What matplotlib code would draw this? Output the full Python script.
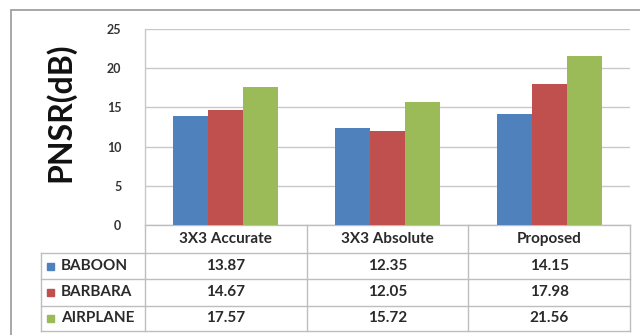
import matplotlib
matplotlib.use("Agg")
import matplotlib.pyplot as plt
from matplotlib.patches import Rectangle
import numpy as np

categories = ["3X3 Accurate", "3X3 Absolute", "Proposed"]
series_names = ["BABOON", "BARBARA", "AIRPLANE"]
baboon = [13.87, 12.35, 14.15]
barbara = [14.67, 12.05, 17.98]
airplane = [17.57, 15.72, 21.56]
yticks = [0, 5, 10, 15, 20, 25]
colors = ["#4F81BD", "#C0504D", "#9BBB59"]

series = [baboon, barbara, airplane]

plt.rcParams['font.family'] = ['Lato', 'DejaVu Sans']

W, H = 640, 335
fig = plt.figure(figsize=(W / 100, H / 100), dpi=100)
fig.patch.set_facecolor("white")

# axes placement (pixels)
ax_l, ax_r, ax_t, ax_b = 145, 630, 29, 225
ax = fig.add_axes([ax_l / W, 1 - ax_b / H, (ax_r - ax_l) / W, (ax_b - ax_t) / H])

x = np.arange(len(categories))
bw = 0.216
for i, (vals, c) in enumerate(zip(series, colors)):
    ax.bar(x + (i - 1) * bw, vals, width=bw, color=c, edgecolor="none", zorder=3)

ax.set_xlim(-0.5, len(categories) - 0.5)
ax.set_ylim(0, 25)
ax.set_yticks(yticks)
ax.set_yticklabels([str(t) for t in yticks], fontsize=9, fontweight="bold", color="#333333")
ax.tick_params(axis="y", length=0, pad=17)
ax.set_xticks([])
ax.grid(axis="y", color="#C8C8C8", linewidth=1.0, zorder=0)
for s in ["top", "right", "bottom"]:
    ax.spines[s].set_visible(False)
ax.spines["left"].set_color("#C8C8C8")
ax.spines["left"].set_linewidth(1.0)

ax.set_ylabel("PNSR(dB)", fontsize=23, fontweight="bold", color="#111111")
ax.yaxis.set_label_coords((75 - ax_l) / (ax_r - ax_l), (ax_b - 112) / (ax_b - ax_t))

# data table below the axes
def ay(py):
    return (ax_b - py) / (ax_b - ax_t)

def axx(px):
    return (px - ax_l) / (ax_r - ax_l)

rows = [225, 253, 279, 306, 331]
tcol = "#BDBDBD"
trans = ax.get_xaxis_transform()
# horizontal lines
ax.plot([0, 1], [ay(rows[0])] * 2, transform=ax.transAxes, color=tcol, lw=1, clip_on=False)
for py in rows[1:]:
    ax.plot([axx(41), 1], [ay(py)] * 2, transform=ax.transAxes, color=tcol, lw=1, clip_on=False)
# vertical lines
for xb in [-0.5, 0.5, 1.5, 2.5]:
    ax.plot([xb, xb], [ay(rows[0]), ay(rows[-1])], transform=trans, color=tcol, lw=1, clip_on=False)
ax.plot([axx(41)] * 2, [ay(rows[1]), ay(rows[-1])], transform=ax.transAxes, color=tcol, lw=1, clip_on=False)

txtc = "#2a2a2a"
fs = 11
for j, cat in enumerate(categories):
    ax.text(x[j], ay((rows[0] + rows[1]) / 2), cat, transform=trans, ha="center", va="center",
            fontsize=fs, fontweight="bold", color=txtc)
for i, (name, vals, c) in enumerate(zip(series_names, series, colors)):
    yc = ay((rows[i + 1] + rows[i + 2]) / 2)
    ax.add_patch(Rectangle((axx(47), yc - 3.5 / (ax_b - ax_t)), 7 / (ax_r - ax_l), 7 / (ax_b - ax_t),
                           transform=ax.transAxes, color=c, clip_on=False))
    ax.text(axx(61), yc, name, transform=ax.transAxes, ha="left", va="center",
            fontsize=fs, fontweight="bold", color=txtc)
    for j, v in enumerate(vals):
        ax.text(x[j], yc, f"{v:.2f}", transform=trans, ha="center", va="center",
                fontsize=fs, fontweight="bold", color=txtc)

# outer chart frame
fig.patches.append(Rectangle((11 / W, -0.1), 1.2, 1 - 10 / H + 0.1, transform=fig.transFigure,
                             fill=False, edgecolor="#A0A0A0", linewidth=1.3))

fig.savefig("out.png", dpi=100, facecolor="white")
